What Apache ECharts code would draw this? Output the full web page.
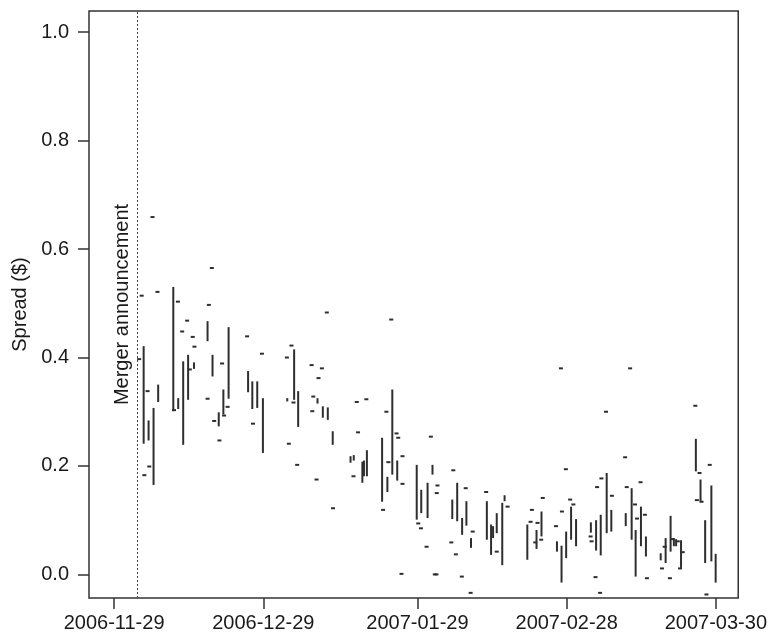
<!DOCTYPE html>
<html>
<head>
<meta charset="utf-8">
<script src="https://cdn.jsdelivr.net/npm/echarts@6/dist/echarts.min.js"></script>
<style>html,body{margin:0;padding:0;background:#fff}#c{width:770px;height:634px}</style>
</head>
<body>
<div id="c"></div>
<script>
// x values are days after 2006-11-29
const tickDays = [0, 30, 61, 91, 121];
const tickLabels = ['2006-11-29', '2006-12-29', '2007-01-29', '2007-02-28', '2007-03-30'];
const yTicks = [0, 0.2, 0.4, 0.6, 0.8, 1.0];
const mergerDay = 4.75;
const mergerLabel = 'Merger announcement';

// vertical ranges: day, low, high
const rangeDays = [11.90, 18.79, 5.94, 19.79, 23.02, 13.89, 14.88, 16.07, 8.86, 12.89, 21.97, 21.04, 6.93, 7.93,
  36.20, 26.94, 27.79, 28.78, 29.92, 37.01, 34.82, 40.90, 41.97, 42.97, 43.96,
  55.94, 53.89, 56.93, 47.54, 48.19, 49.92, 50.83, 50.24, 54.95, 60.85, 61.76, 63.03, 64.02,
  68.00, 68.99, 69.98, 70.84, 71.77, 74.95, 75.80, 76.20, 76.94, 78.05, 78.52, 83.09,
  99.05, 104.07, 91.89, 92.89, 99.98, 102.88, 84.94, 85.94, 89.05, 89.97, 90.90, 95.87, 96.92, 97.85,
  116.98, 117.92, 120.10, 118.85, 120.96, 104.87, 105.94, 106.94, 109.91, 110.90, 111.90, 112.56, 113.01, 114.00];
const rangeLow = [0.301, 0.430, 0.241, 0.365, 0.324, 0.239, 0.322, 0.379, 0.318, 0.305, 0.295, 0.273, 0.247, 0.165,
  0.322, 0.336, 0.305, 0.307, 0.224, 0.272, 0.319, 0.315, 0.289, 0.285, 0.239,
  0.184, 0.134, 0.173, 0.206, 0.210, 0.169, 0.181, 0.181, 0.152, 0.101, 0.113, 0.104, 0.184,
  0.102, 0.098, 0.073, 0.090, 0.049, 0.064, 0.036, 0.067, 0.076, 0.017, 0.135, 0.027,
  0.076, 0.064, 0.064, 0.052, 0.079, 0.089, 0.047, 0.070, 0.042, -0.015, 0.030, 0.077, 0.044, 0.035,
  0.190, 0.135, 0.024, 0.021, -0.015, -0.004, 0.052, 0.033, 0.026, 0.021, 0.042, 0.052, 0.052, 0.012];
const rangeHigh = [0.530, 0.467, 0.421, 0.405, 0.456, 0.393, 0.405, 0.391, 0.350, 0.325, 0.341, 0.299, 0.284, 0.307,
  0.415, 0.375, 0.356, 0.356, 0.325, 0.338, 0.325, 0.325, 0.310, 0.308, 0.264,
  0.341, 0.252, 0.210, 0.218, 0.220, 0.208, 0.229, 0.210, 0.180, 0.202, 0.156, 0.169, 0.202,
  0.138, 0.169, 0.104, 0.135, 0.067, 0.135, 0.092, 0.089, 0.113, 0.132, 0.146, 0.092,
  0.187, 0.159, 0.125, 0.102, 0.119, 0.113, 0.082, 0.116, 0.061, 0.053, 0.079, 0.096, 0.100, 0.110,
  0.250, 0.175, 0.164, 0.100, 0.038, 0.082, 0.125, 0.070, 0.039, 0.067, 0.108, 0.067, 0.065, 0.063];

// single values: day, spread
const pointDays = [7.72, 19.65, 5.54, 8.72, 12.83, 19.05, 14.68, 13.69, 15.81, 16.15, 5.03, 21.71, 15.22, 6.73, 12.04, 18.79, 22.82, 22.11, 20.12, 21.18, 7.07, 6.08,
  42.77, 26.74, 35.66, 29.72, 34.74, 39.71, 41.78, 41.10, 27.93, 36.07, 40.05, 39.85, 35.14, 36.81, 40.70, 44.02,
  55.73, 48.79, 50.72, 54.75, 49.05, 56.79, 57.13, 63.69, 57.99, 48.13, 55.15, 57.99, 54.09, 61.16, 61.70, 62.83, 57.79, 64.48,
  65.02, 64.88, 68.20, 70.70, 72.11, 67.80, 68.72, 64.82, 69.92, 71.69, 74.81, 76.94, 79.12, 84.01, 83.75,
  89.85, 103.76, 98.91, 102.76, 90.84, 97.99, 97.12, 103.08, 100.10, 86.19, 91.70, 92.35, 90.05, 85.14, 84.69, 85.88, 88.86, 95.81, 96.01, 96.80, 97.72,
  116.87, 119.77, 117.72, 117.18, 118.12, 119.11, 105.86, 104.75, 105.15, 106.74, 107.14, 110.17, 110.71, 111.76, 112.30, 113.35, 114.34, 113.80];
const pointValues = [0.659, 0.565, 0.514, 0.521, 0.503, 0.497, 0.468, 0.448, 0.438, 0.420, 0.397, 0.389, 0.378, 0.338, 0.303, 0.324, 0.309, 0.293, 0.283, 0.247, 0.199, 0.183,
  0.483, 0.439, 0.422, 0.407, 0.400, 0.386, 0.380, 0.362, 0.278, 0.317, 0.328, 0.301, 0.241, 0.202, 0.175, 0.122,
  0.470, 0.318, 0.323, 0.300, 0.262, 0.260, 0.252, 0.254, 0.218, 0.181, 0.207, 0.167, 0.119, 0.094, 0.085, 0.051, 0.001, 0.000,
  0.164, 0.150, 0.192, 0.159, 0.079, 0.059, 0.037, 0.000, -0.004, -0.034, 0.152, 0.042, 0.125, 0.119, 0.097,
  0.380, 0.380, 0.300, 0.216, 0.194, 0.177, 0.161, 0.161, 0.145, 0.141, 0.138, 0.129, 0.116, 0.095, 0.059, 0.064, 0.089, 0.070, 0.061, -0.005, -0.034,
  0.311, 0.202, 0.187, 0.137, 0.134, -0.037, 0.170, 0.129, 0.103, 0.110, -0.007, 0.011, 0.051, -0.007, 0.065, 0.061, 0.041, 0.011];

const ink = '#2e2e2e';
const font = "'Liberation Sans', Arial, Helvetica, sans-serif";

const chart = echarts.init(document.getElementById('c'), null, {renderer: 'canvas'});
chart.setOption({
  animation: false,
  backgroundColor: '#ffffff',
  grid: {left: 89, right: 24, top: 11, bottom: 36, show: true, borderColor: '#333', borderWidth: 1.5, backgroundColor: 'transparent'},
  xAxis: {
    type: 'value', min: -5.05, max: 125.5,
    axisLine: {show: false, onZero: false},
    splitLine: {show: false},
    axisTick: {show: true, length: 11, lineStyle: {color: '#333', width: 1.5}, customValues: tickDays},
    axisLabel: {customValues: tickDays, margin: 15, fontSize: 20, fontFamily: font, color: '#1a1a1a',
      formatter: v => tickLabels[tickDays.indexOf(Math.round(v))] || ''}
  },
  yAxis: {
    type: 'value', min: -0.0435, max: 1.039,
    name: 'Spread ($)', nameLocation: 'middle', nameGap: 51, nameRotate: 90,
    nameTextStyle: {fontSize: 20, fontFamily: font, color: '#1a1a1a'},
    axisLine: {show: false, onZero: false},
    splitLine: {show: false},
    axisTick: {show: true, length: 11, lineStyle: {color: '#333', width: 1.5}, customValues: yTicks},
    axisLabel: {customValues: yTicks, margin: 20, fontSize: 20, fontFamily: font, color: '#1a1a1a',
      formatter: v => v.toFixed(1)}
  },
  series: [
    {
      type: 'custom',
      data: rangeDays.map((d, i) => [d, rangeLow[i], rangeHigh[i]]),
      renderItem: function (params, api) {
        const lo = api.coord([api.value(0), api.value(1)]);
        const hi = api.coord([api.value(0), api.value(2)]);
        const h = Math.max(lo[1] - hi[1], 2);
        return {type: 'rect', shape: {x: lo[0] - 1, y: hi[1], width: 2, height: h}, style: {fill: ink}};
      },
      markLine: {
        silent: true, symbol: ['none', 'none'],
        lineStyle: {type: [2, 2], color: '#444', width: 1},
        label: {show: true, formatter: mergerLabel, position: 'insideMiddleTop', distance: 5,
          fontSize: 20, fontFamily: font, color: '#1a1a1a'},
        data: [{xAxis: mergerDay}]
      }
    },
    {
      type: 'custom',
      data: pointDays.map((d, i) => [d, pointValues[i]]),
      renderItem: function (params, api) {
        const p = api.coord([api.value(0), api.value(1)]);
        return {type: 'rect', shape: {x: p[0] - 2, y: p[1] - 1, width: 4, height: 2}, style: {fill: ink}};
      }
    }
  ]
});
</script>
</body>
</html>
